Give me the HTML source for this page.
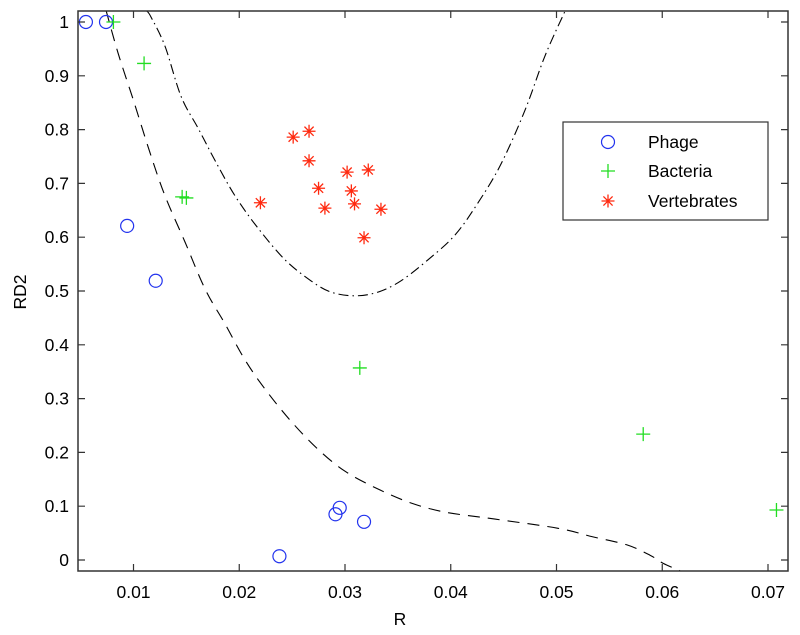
<!DOCTYPE html>
<html><head><meta charset="utf-8"><style>
html,body{margin:0;padding:0;background:#fff}
svg{display:block;font-family:"Liberation Sans",Arial,sans-serif}
</style></head><body>
<svg id="chart" width="800" height="635" viewBox="0 0 800 635" xmlns="http://www.w3.org/2000/svg">
<defs><clipPath id="plotclip"><rect x="78" y="11" width="710" height="560"/></clipPath></defs>
<rect x="0" y="0" width="800" height="635" fill="#fff"/>
<g id="curves" clip-path="url(#plotclip)"></g>
<g id="marks"></g>
<g id="axes"></g>
</svg>
<script>
const phageX=[0.0055,0.0074,0.0094,0.0121,0.0238,0.0291,0.0295,0.0318];
const phageY=[1.0,1.0,0.621,0.519,0.007,0.085,0.097,0.071];
const bactX=[0.0081,0.0110,0.0146,0.0150,0.0314,0.0582,0.0708];
const bactY=[1.0,0.923,0.675,0.673,0.357,0.234,0.093];
const vertX=[0.0251,0.0266,0.0266,0.0302,0.0322,0.0275,0.0306,0.0281,0.0309,0.0334,0.0220,0.0318];
const vertY=[0.786,0.797,0.742,0.721,0.725,0.691,0.686,0.654,0.662,0.652,0.664,0.599];
const lowerX=[0.0074,0.00854,0.00995,0.01156,0.01298,0.01487,0.01676,0.01865,0.02054,0.02243,0.02489,0.02744,0.0300,0.03312,0.03624,0.03946,0.04418,0.05014,0.05345,0.05667,0.05884,0.06007,0.06168];
const lowerY=[1.022,0.942,0.857,0.757,0.677,0.591,0.504,0.439,0.372,0.318,0.258,0.206,0.165,0.132,0.106,0.089,0.076,0.059,0.043,0.028,0.009,-0.006,-0.020];
const upperX=[0.01128,0.01166,0.01298,0.01449,0.0161,0.0177,0.0196,0.02177,0.02433,0.02678,0.02868,0.03095,0.03312,0.0353,0.03785,0.0404,0.04258,0.04475,0.04702,0.04891,0.0508];
const upperY=[1.020,1.009,0.955,0.862,0.803,0.743,0.677,0.617,0.558,0.519,0.498,0.491,0.498,0.519,0.558,0.604,0.664,0.736,0.836,0.937,1.020];
const xTicks=[0.01,0.02,0.03,0.04,0.05,0.06,0.07];
const xTickLabels=["0.01","0.02","0.03","0.04","0.05","0.06","0.07"];
const yTicks=[0,0.1,0.2,0.3,0.4,0.5,0.6,0.7,0.8,0.9,1];
const yTickLabels=["0","0.1","0.2","0.3","0.4","0.5","0.6","0.7","0.8","0.9","1"];

const NS="http://www.w3.org/2000/svg";
const L=78,R=788,T=11,B=571;
function sx(v){return 27.75+v*10575;}
function sy(v){return 560-v*538;}
function mk(tag,attrs,parent){const e=document.createElementNS(NS,tag);for(const k in attrs)e.setAttribute(k,attrs[k]);parent.appendChild(e);return e;}
const curves=document.getElementById('curves'),marks=document.getElementById('marks'),axes=document.getElementById('axes');

function pathOf(xs,ys){
  const p=xs.map((x,i)=>[sx(x),sy(ys[i])]);
  let d='M'+p[0][0].toFixed(1)+' '+p[0][1].toFixed(1);
  for(let i=0;i<p.length-1;i++){
    const p0=p[Math.max(0,i-1)],p1=p[i],p2=p[i+1],p3=p[Math.min(p.length-1,i+2)];
    const c1=[p1[0]+(p2[0]-p0[0])/6,p1[1]+(p2[1]-p0[1])/6];
    const c2=[p2[0]-(p3[0]-p1[0])/6,p2[1]-(p3[1]-p1[1])/6];
    d+=` C${c1[0].toFixed(1)} ${c1[1].toFixed(1)} ${c2[0].toFixed(1)} ${c2[1].toFixed(1)} ${p2[0].toFixed(1)} ${p2[1].toFixed(1)}`;
  }
  return d;
}
const lc=mk('path',{d:pathOf(lowerX,lowerY),fill:'none',stroke:'#000','stroke-width':1.1,'stroke-dasharray':'12 8'},curves);


const uc=mk('path',{d:pathOf(upperX,upperY),fill:'none',stroke:'#000','stroke-width':1.1,'stroke-dasharray':'10 4 1.5 4'},curves);



function circle(cx,cy,p){return mk('circle',{cx:cx,cy:cy,r:6.5,fill:'none',stroke:'#2233ee','stroke-width':1.2},p);}
function plus(cx,cy,p){return mk('path',{d:`M${cx-7} ${cy}H${cx+7}M${cx} ${cy-7}V${cy+7}`,stroke:'#22dd22','stroke-width':1.3,fill:'none'},p);}
function star(cx,cy,p){const s=6.5,d=4.6;return mk('path',{d:`M${cx-s} ${cy}H${cx+s}M${cx} ${cy-s}V${cy+s}M${cx-d} ${cy-d}L${cx+d} ${cy+d}M${cx-d} ${cy+d}L${cx+d} ${cy-d}`,stroke:'#ff2a10','stroke-width':1.3,fill:'none'},p);}

phageX.forEach((x,i)=>{const e=circle(sx(x),sy(phageY[i]),marks);

});
bactX.forEach((x,i)=>{const e=plus(sx(x),sy(bactY[i]),marks);

});
vertX.forEach((x,i)=>{const e=star(sx(x),sy(vertY[i]),marks);

});

const box=mk('rect',{x:L,y:T,width:R-L,height:B-T,fill:'none',stroke:'#333','stroke-width':1.5},axes);


xTicks.forEach((v,i)=>{const x=sx(v);
mk('path',{d:`M${x} ${B}V${B-7}M${x} ${T}V${T+7}`,stroke:'#333','stroke-width':1.2},axes);
const t=mk('text',{x:x,y:598,'text-anchor':'middle','font-size':17.5,fill:'#000'},axes);t.textContent=xTickLabels[i];

});
yTicks.forEach((v,i)=>{const y=sy(v);
mk('path',{d:`M${L} ${y}H${L+7}M${R} ${y}H${R-7}`,stroke:'#333','stroke-width':1.2},axes);
const t=mk('text',{x:69,y:y+6,'text-anchor':'end','font-size':17.5,fill:'#000'},axes);t.textContent=yTickLabels[i];

});
const xt=mk('text',{x:400,y:625,'text-anchor':'middle','font-size':17.5,fill:'#000'},axes);xt.textContent='R';


const yt=mk('text',{x:0,y:0,'text-anchor':'middle','font-size':17.5,fill:'#000',transform:'translate(26,292) rotate(-90)'},axes);yt.textContent='RD2';



const lg=mk('g',{},axes);


mk('rect',{x:563,y:122,width:205,height:98,fill:'#fff',stroke:'#333','stroke-width':1.2},lg);
const names=['Phage','Bacteria','Vertebrates'],fns=[circle,plus,star],ly=[142,171,201];
names.forEach((n,i)=>{const g=mk('g',{},lg);


fns[i](608,ly[i],g);
const t=mk('text',{x:648,y:ly[i]+6,'font-size':17.5,fill:'#000'},g);t.textContent=n;});
</script>
</body></html>
